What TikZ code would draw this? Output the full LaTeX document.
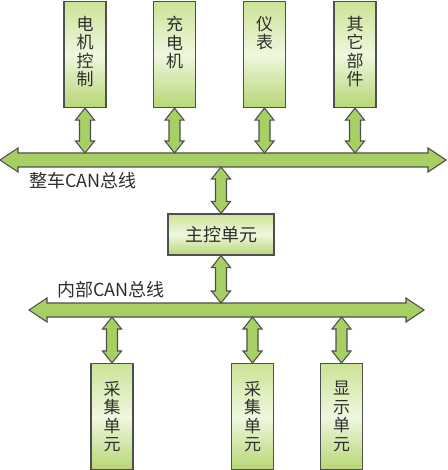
\documentclass[tikz,border=0pt]{standalone}
\usepackage{fontspec}
\setmainfont{Noto Sans CJK SC}
\usepackage{tikz}
\usetikzlibrary{positioning,calc}

\definecolor{busgreen}{HTML}{A6D064}
\definecolor{boxtop}{HTML}{CBE396}
\definecolor{boxmid}{HTML}{EFF7DF}
\definecolor{boxbot}{HTML}{B6D775}
\definecolor{edgegray}{HTML}{4F4F4F}
\definecolor{textgray}{HTML}{2E2E2E}

% vertical two-headed fat arrow, from upper point #1 to lower point #2
\newcommand{\vlink}[2]{%
  \draw[fatlink] let \p1=(#1), \p2=(#2) in
    (\x1,\y1) -- ({\x1+9.5pt},{\y1-12pt}) -- ({\x1+5.5pt},{\y1-12pt})
    -- ({\x1+5.5pt},{\y2+12pt}) -- ({\x1+9.5pt},{\y2+12pt}) -- (\x1,\y2)
    -- ({\x1-9.5pt},{\y2+12pt}) -- ({\x1-5.5pt},{\y2+12pt})
    -- ({\x1-5.5pt},{\y1-12pt}) -- ({\x1-9.5pt},{\y1-12pt}) -- cycle;}
% horizontal two-headed bus, from left point #1 to right point #2
\newcommand{\hbus}[2]{%
  \draw[fatlink] let \p1=(#1), \p2=(#2) in
    (\x1,\y1) -- ({\x1+18pt},{\y1+12pt}) -- ({\x1+18pt},{\y1+7pt})
    -- ({\x2-18pt},{\y1+7pt}) -- ({\x2-18pt},{\y1+12pt}) -- (\x2,\y1)
    -- ({\x2-18pt},{\y1-12pt}) -- ({\x2-18pt},{\y1-7pt})
    -- ({\x1+18pt},{\y1-7pt}) -- ({\x1+18pt},{\y1-12pt}) -- cycle;}

\begin{document}
\begin{tikzpicture}[
  x=1pt, y=-1pt,
  unit/.style={draw=edgegray, line width=1.1pt, minimum width=42pt, minimum height=106pt,
    inner sep=0pt, top color=boxtop, bottom color=boxbot, middle color=boxmid},
  mainunit/.style={unit, minimum width=106pt, minimum height=41pt},
  vtext/.style={inner sep=0pt, align=center, text=textgray, font=\fontsize{17}{18.5}\selectfont},
  buslabel/.style={inner sep=0pt, text=textgray, font=\fontsize{18}{20}\selectfont},
  fatlink/.style={draw=edgegray, line width=1.1pt, fill=busgreen, line join=miter}
]
\useasboundingbox (0,0) rectangle (447,470);

% Buses
\coordinate (can1l) at (0,160);
\coordinate (can1r) at (446,160);
\coordinate (can2l) at (29,310);
\coordinate (can2r) at (424,310);
\hbus{can1l}{can1r}
\hbus{can2l}{can2r}
\node[buslabel, anchor=west] (can1lbl) at (29,181) {整车CAN总线};
\node[buslabel, anchor=west] (can2lbl) at (57,290) {内部CAN总线};

% Vehicle side units
\node[unit, anchor=north] (motor) at (85,1) {};
\node[unit, anchor=north] (charger) at (174.5,1) {};
\node[unit, anchor=north] (meter) at (264.5,1) {};
\node[unit, anchor=north] (other) at (355,1) {};
\node[vtext, anchor=north] at ($(motor.north)+(0,15)$) {电\\机\\控\\制};
\node[vtext, anchor=north] at ($(charger.north)+(0,15)$) {充\\电\\机};
\node[vtext, anchor=north] at ($(meter.north)+(0,15)$) {仪\\表};
\node[vtext, anchor=north] at ($(other.north)+(0,15)$) {其\\它\\部\\件};

% Master unit
\node[mainunit] (master) at (221,234.5) {};
\node[buslabel] at (master.center) {主控单元};

% Internal units
\node[unit, anchor=north] (acq1) at (112,363) {};
\node[unit, anchor=north] (acq2) at (252.5,363) {};
\node[unit, anchor=north] (disp) at (341.5,363) {};
\node[vtext] at (acq1.center) {采\\集\\单\\元};
\node[vtext] at (acq2.center) {采\\集\\单\\元};
\node[vtext] at (disp.center) {显\\示\\单\\元};

% Links to buses
\foreach \u in {motor,charger,meter,other}
  \vlink{\u.south}{$(\u.south |- can1l)+(0,-7)$};
\vlink{$(master.north |- can1l)+(0,7)$}{master.north}
\vlink{master.south}{$(master.south |- can2l)+(0,-7)$}
\foreach \u in {acq1,acq2,disp}
  \vlink{$(\u.north |- can2l)+(0,7)$}{\u.north};

\end{tikzpicture}
\end{document}
